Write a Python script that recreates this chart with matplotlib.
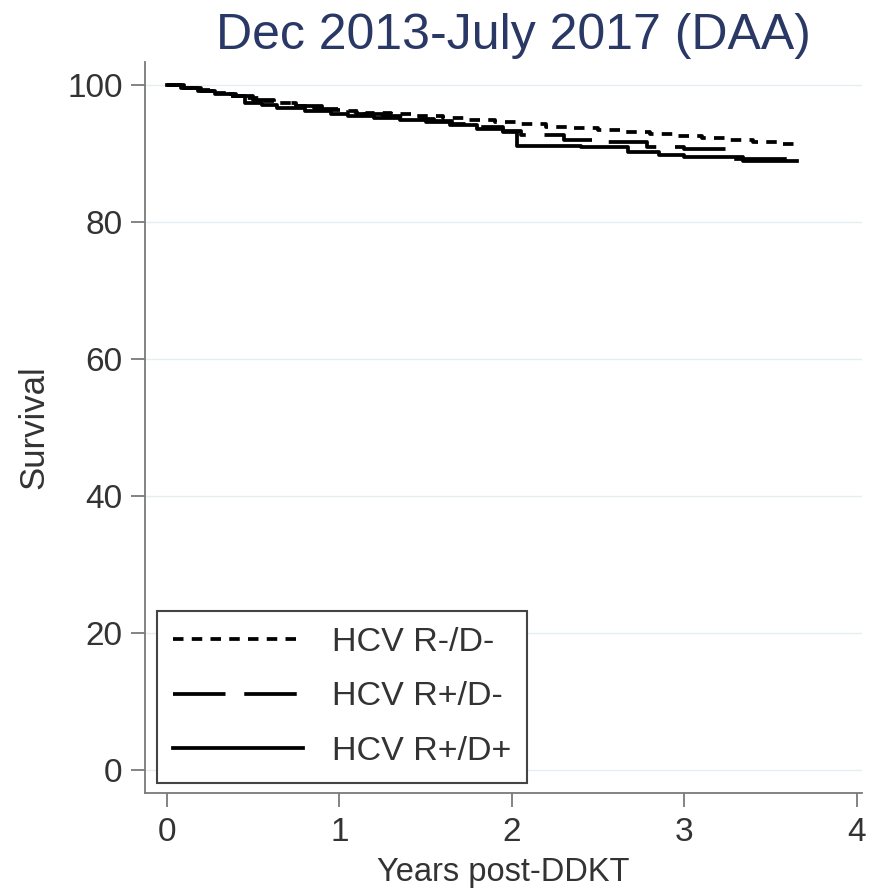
import matplotlib
matplotlib.use("Agg")
import matplotlib.pyplot as plt

plt.rcParams['font.family'] = ['Liberation Sans', 'DejaVu Sans']

# Kaplan-Meier style survival steps
t_rneg_dneg = [0, 0.08, 0.17, 0.25, 0.35, 0.45, 0.55, 0.65, 0.75, 0.85, 0.95,
               1.05, 1.15, 1.3, 1.45, 1.6, 1.75, 1.9, 2.05, 2.2, 2.35, 2.5,
               2.65, 2.8, 2.95, 3.1, 3.25, 3.4, 3.55, 3.65]
s_rneg_dneg = [100, 99.7, 99.3, 98.9, 98.5, 98.1, 97.7, 97.4, 97.0, 96.7, 96.4,
               96.2, 96.0, 95.8, 95.5, 95.2, 94.9, 94.6, 94.3, 94.0, 93.8, 93.5,
               93.2, 92.9, 92.6, 92.3, 92.0, 91.7, 91.4, 91.2]

t_rpos_dneg = [0, 0.1, 0.2, 0.3, 0.4, 0.5, 0.62, 0.75, 0.9, 1.0, 1.1, 1.25,
               1.4, 1.55, 1.65, 1.8, 1.95, 2.05, 2.3, 2.5, 2.78, 3.0, 3.28, 3.65]
s_rpos_dneg = [100, 99.6, 99.2, 98.8, 98.4, 97.9, 97.4, 97.0, 96.5, 96.1, 95.8,
               95.5, 95.1, 94.8, 94.3, 93.9, 93.4, 92.7, 92.0, 91.7, 91.0, 90.7,
               89.3, 89.2]

t_rpos_dpos = [0, 0.08, 0.18, 0.28, 0.38, 0.45, 0.55, 0.64, 0.8, 0.95, 1.05,
               1.2, 1.35, 1.5, 1.64, 1.8, 1.95, 2.03, 2.2, 2.4, 2.67, 2.85, 3.0,
               3.34, 3.65]
s_rpos_dpos = [100, 99.6, 99.2, 98.8, 98.4, 97.5, 97.2, 96.7, 96.3, 95.9, 95.6,
               95.3, 95.0, 94.7, 94.2, 93.7, 93.2, 91.2, 91.2, 91.0, 90.3, 89.8,
               89.6, 88.9, 88.9]

labels = ["HCV R-/D-", "HCV R+/D-", "HCV R+/D+"]
x_ticks = [0, 1, 2, 3, 4]
y_ticks = [0, 20, 40, 60, 80, 100]

fig = plt.figure(figsize=(8.77, 8.88), dpi=100)
ax = fig.add_axes([0.1653, 0.107, 0.8176, 0.823])

for y in y_ticks:
    ax.axhline(y, color="#e4eef1", lw=1.0, zorder=0)

ax.step(t_rneg_dneg, s_rneg_dneg, where="post", color="black", lw=2.7,
        linestyle=(0, (2.8, 2.2)), label=labels[0])
ax.step(t_rpos_dneg, s_rpos_dneg, where="post", color="black", lw=2.7,
        linestyle=(0, (14, 5)), label=labels[1])
ax.step(t_rpos_dpos, s_rpos_dpos, where="post", color="black", lw=2.7,
        linestyle="-", label=labels[2])

ax.set_xlim(-0.1275, 4.029)
ax.set_ylim(-3.3, 103.4)
ax.set_xticks(x_ticks)
ax.set_yticks(y_ticks)

for side in ["top", "right"]:
    ax.spines[side].set_visible(False)
for side in ["left", "bottom"]:
    ax.spines[side].set_color("#7a7a7a")
    ax.spines[side].set_linewidth(1.3)

ax.tick_params(axis="both", colors="#7a7a7a", length=10, width=1.3,
               labelsize=24, labelcolor="#333333")
ax.tick_params(axis="y", pad=6)
ax.tick_params(axis="x", pad=7)

ax.set_ylabel("Survival", fontsize=25, color="#333333", labelpad=12)
ax.set_xlabel("Years post-DDKT", fontsize=23.5, color="#333333", labelpad=7)

fig.text(0.586, 0.9595, "Dec 2013-July 2017 (DAA)", fontsize=36,
         color="#2a3866", ha="center", va="center")

leg = ax.legend(loc="lower left", bbox_to_anchor=(0.0167, 0.0137),
                borderaxespad=0, fontsize=24.5, handlelength=3.82,
                handletextpad=0.85, labelspacing=0.69, borderpad=0.47,
                fancybox=False, framealpha=1, edgecolor="#444444")
leg.get_frame().set_linewidth(1.5)
for txt in leg.get_texts():
    txt.set_color("#333333")

fig.savefig("out.png", dpi=100)
